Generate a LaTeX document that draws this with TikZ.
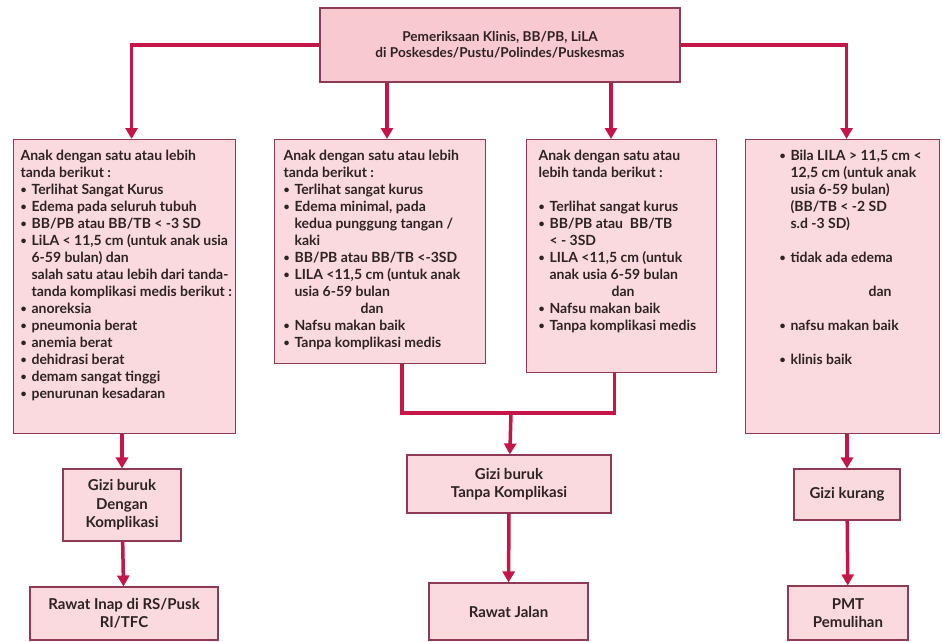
\documentclass[tikz,border=0pt]{standalone}
\usepackage{fontspec}
\setmainfont{Lato}
\usetikzlibrary{arrows.meta,positioning,calc}

\definecolor{boxfill}{HTML}{FADADE}
\definecolor{topfill}{HTML}{F8C9D0}
\definecolor{boxline}{HTML}{8C3A55}
\definecolor{arrowred}{HTML}{C41648}
\definecolor{inktext}{HTML}{2E2224}

% bullet item and continuation indent
\newcommand{\itm}{\makebox[11pt][l]{\raisebox{0.1ex}{\scalebox{0.75}{\textbullet}}}}
\newcommand{\cnt}{\hspace*{11pt}}
% top aligned block of lines in a box of fixed size
\newcommand{\listtext}[4][0pt]{\parbox[t][#3][t]{#2}{%
  \begin{tabular}{@{\hspace{#1}}l@{}}#4\end{tabular}}}

\begin{document}
\begin{tikzpicture}[
  x=1pt, y=-1pt,
  font=\bfseries\fontsize{14}{17}\selectfont, text=inktext,
  box/.style={draw=boxline, fill=boxfill, line width=1.1pt, inner sep=0pt},
  listbox/.style={box, anchor=north west, inner xsep=7pt, inner ysep=9pt},
  endbox/.style={box, align=center, font=\bfseries\fontsize{15}{18.5}\selectfont},
  ln/.style={draw=arrowred, line width=3.5pt},
  ar/.style={ln, -{Triangle[length=11pt,width=12pt]}}
]
\useasboundingbox (0,0) rectangle (942,641);

\node[box, fill=topfill, minimum width=360pt, minimum height=74pt, align=center,
      font=\bfseries\fontsize{13.6}{16}\selectfont] (top) at (500,45)
     {Pemeriksaan Klinis, BB/PB, LiLA\\di Poskesdes/Pustu/Polindes/Puskesmas};

\node[listbox] (b1) at (13,139) {\listtext{208pt}{276pt}{%
Anak dengan satu atau lebih\\
tanda berikut :\\
\itm Terlihat Sangat Kurus\\
\itm Edema pada seluruh tubuh\\
\itm BB/PB atau BB/TB < -3 SD\\
\itm LiLA < 11,5 cm (untuk anak usia\\
\cnt 6-59 bulan) dan\\
\cnt salah satu atau lebih dari tanda-\\
\cnt tanda komplikasi medis berikut :\\
\itm anoreksia\\
\itm pneumonia berat\\
\itm anemia berat\\
\itm dehidrasi berat\\
\itm demam sangat tinggi\\
\itm penurunan kesadaran}};

\node[listbox, inner xsep=9pt] (b2) at (274,139) {\listtext{193pt}{206pt}{%
Anak dengan satu atau lebih\\
tanda berikut :\\
\itm Terlihat sangat kurus\\
\itm Edema minimal, pada\\
\cnt kedua punggung tangan /\\
\cnt kaki\\
\itm BB/PB atau BB/TB <-3SD\\
\itm LILA <11,5 cm (untuk anak\\
\cnt usia 6-59 bulan\\
\hspace*{77pt}dan\\
\itm Nafsu makan baik\\
\itm Tanpa komplikasi medis}};

\node[listbox, inner xsep=12pt] (b3) at (526,139) {\listtext{166pt}{215pt}{%
Anak dengan satu atau\\
lebih tanda berikut :\\[17pt]
\itm Terlihat sangat kurus\\
\itm BB/PB atau\ \ BB/TB\\
\cnt < - 3SD\\
\itm LILA <11,5 cm (untuk\\
\cnt anak usia 6-59 bulan\\
\hspace*{73pt}dan\\
\itm Nafsu makan baik\\
\itm Tanpa komplikasi medis}};

\node[listbox] (b4) at (745,139) {\listtext[27pt]{180pt}{276pt}{%
\itm Bila LILA > 11,5 cm <\\
\cnt 12,5 cm (untuk anak\\
\cnt usia 6-59 bulan)\\
\cnt (BB/TB < -2 SD\\
\cnt s.d -3 SD)\\[17pt]
\itm tidak ada edema\\[17pt]
\hspace*{89pt}dan\\[17pt]
\itm nafsu makan baik\\[17pt]
\itm klinis baik}};

\node[endbox, minimum width=118pt, minimum height=72pt] (gd) at (122,505)
     {Gizi buruk\\Dengan\\Komplikasi};
\node[endbox, minimum width=188pt, minimum height=53pt] (rs) at (124,613.5)
     {Rawat Inap di RS/Pusk\\RI/TFC};
\node[endbox, minimum width=204pt, minimum height=58pt] (tk) at (509,484)
     {Gizi buruk\\Tanpa Komplikasi};
\node[endbox, minimum width=159pt, minimum height=57pt] (rj) at (508.5,611.5)
     {Rawat Jalan};
\node[endbox, minimum width=106pt, minimum height=51pt] (gk) at (847,494.5)
     {Gizi kurang};
\node[endbox, minimum width=120pt, minimum height=54pt] (pmt) at (848,613)
     {PMT\\Pemulihan};

\coordinate (mid) at (511,413);

\draw[ar] (top.west) -| ([xshift=7pt]b1.north);
\draw[ar] ([xshift=-113pt]top.south) -- ([xshift=-113pt]top.south |- b2.north);
\draw[ar] ([xshift=111pt]top.south) -- ([xshift=111pt]top.south |- b3.north);
\draw[ar] (top.east) -| ([xshift=4pt]b4.north);

\draw[ar] (b1.south -| gd.north) -- (gd);
\draw[ar] (gd) -- (rs);
\draw[ln] ([xshift=22pt]b2.south) |- (mid) -| ([xshift=-7pt]b3.south);
\draw[ar] (mid) -- (tk);
\draw[ar] (tk) -- (rj);
\draw[ar] (b4.south -| gk.north) -- (gk);
\draw[ar] (gk) -- (pmt);
\end{tikzpicture}
\end{document}
